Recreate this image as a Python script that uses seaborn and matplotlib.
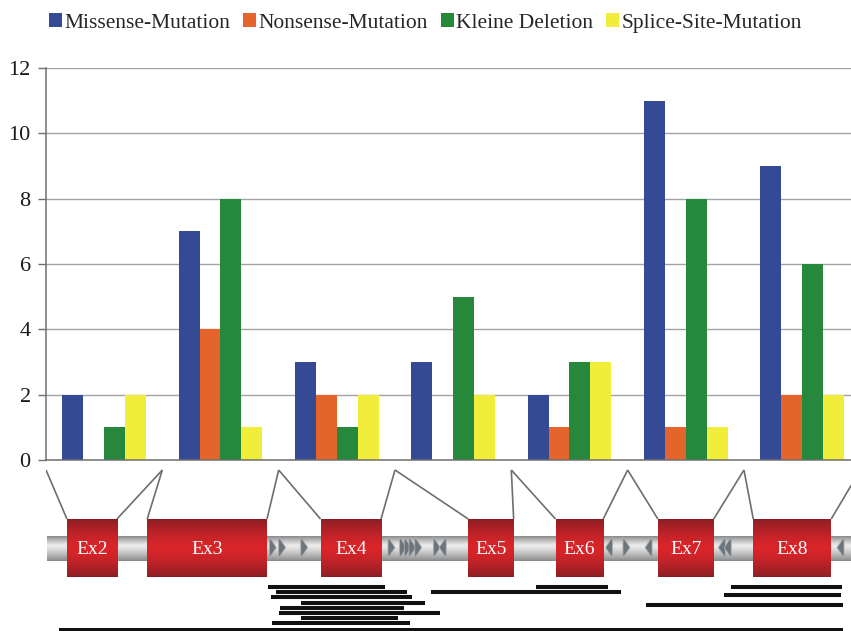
import numpy as np
import pandas as pd
import matplotlib
matplotlib.use("Agg")
import matplotlib.pyplot as plt
from matplotlib.patches import Polygon
import seaborn as sns

# ---- mutation counts per exon ----
exons = ["Ex2", "Ex3", "Ex4", "Ex5", "Ex6", "Ex7", "Ex8"]
mutation_types = ["Missense-Mutation", "Nonsense-Mutation", "Kleine Deletion", "Splice-Site-Mutation"]
missense = [2, 7, 3, 3, 2, 11, 9]
nonsense = [0, 4, 2, 0, 1, 1, 2]
deletion = [1, 8, 1, 5, 3, 8, 6]
splice = [2, 1, 2, 2, 3, 1, 2]
y_ticks = [0, 2, 4, 6, 8, 10, 12]

# ---- gene model (positions on the exon axis, one unit per exon slot) ----
exon_start = [-0.32, 0.37, 1.86, 3.13, 3.88, 4.76, 5.58]
exon_end = [0.11, 1.40, 2.38, 3.52, 4.29, 5.24, 6.25]
element_pos = [1.45, 1.53, 1.72, 2.47, 2.57, 2.61, 2.65, 2.70, 2.86, 2.91,
               4.34, 4.49, 4.68, 5.31, 5.36, 6.33]
element_dir = [1, 1, 1, 1, 1, 1, 1, 1, 1, -1, -1, 1, -1, -1, -1, -1]
read_start = [1.41, 1.48, 1.43, 1.69, 1.51, 1.50, 1.69, 1.44, -0.39, 3.71, 2.81, 5.39, 5.33, 4.66]
read_end = [2.41, 2.60, 2.65, 2.76, 2.58, 2.89, 2.53, 2.63, 6.35, 4.33, 4.44, 6.34, 6.33, 6.35]

palette = ["#344A94", "#E5642B", "#26883C", "#F0EE3A"]

W, H = 851, 631
sns.set_theme(style="white")
plt.rcParams["font.family"] = ["Liberation Serif", "DejaVu Serif"]

fig = plt.figure(figsize=(W / 100, H / 100), dpi=100)

# ---- bar chart ----
x_left, x_right = 46, 860.3
ax = fig.add_axes([x_left / W, (H - 460) / H, (x_right - x_left) / W, 392 / H])

df = pd.DataFrame({
    "Exon": exons * 4,
    "Typ": sum([[t] * len(exons) for t in mutation_types], []),
    "Anzahl": missense + nonsense + deletion + splice,
})
sns.barplot(data=df, x="Exon", y="Anzahl", hue="Typ", hue_order=mutation_types,
            palette=palette, width=0.72, saturation=1, linewidth=0,
            errorbar=None, ax=ax)

ax.set_xlim(-0.5, len(exons) - 0.5)
ax.set_ylim(0, 12)
ax.set_xlabel("")
ax.set_ylabel("")
ax.set_xticks(np.arange(-0.5, len(exons)))
ax.set_xticklabels([])
ax.set_yticks(y_ticks)
ax.set_yticklabels([str(v) for v in y_ticks], fontsize=16, color="#1a1a1a")
ax.tick_params(axis="x", direction="in", length=7, color="#707070", width=1)
ax.tick_params(axis="y", direction="out", length=6, color="#707070", width=1, pad=5, left=True)
ax.grid(axis="y", color="#A3A3A3", linewidth=1.0)
ax.set_axisbelow(True)
for side in ("top", "right"):
    ax.spines[side].set_visible(False)
for side in ("left", "bottom"):
    ax.spines[side].set_color("#707070")
    ax.spines[side].set_linewidth(1.1)

handles, labels = ax.get_legend_handles_labels()
if ax.get_legend() is not None:
    ax.get_legend().remove()
fig.legend(handles, labels, loc="upper center", bbox_to_anchor=(0.5, 1 - 13 / H),
           ncol=4, frameon=False, fontsize=15.5, handlelength=0.6, handleheight=0.65,
           handletextpad=0.12, columnspacing=0.6, borderaxespad=0, borderpad=0)

# ---- gene diagram below the bars (y runs downward in pixel rows) ----
ax2 = fig.add_axes([x_left / W, 0, (x_right - x_left) / W, (H - 462) / H])
ax2.axis("off")


def gradient(c_edge, c_mid, n=80, peak=0.5, power=1.6):
    t = np.linspace(0, 1, n)
    d = np.where(t < peak, (peak - t) / peak, (t - peak) / (1 - peak))
    w = d ** power
    c_edge = np.array(matplotlib.colors.to_rgb(c_edge))
    c_mid = np.array(matplotlib.colors.to_rgb(c_mid))
    return (c_mid[None, :] * (1 - w[:, None]) + c_edge[None, :] * w[:, None])[:, None, :]


tube_top, tube_bot = 536, 561
ax2.imshow(gradient("#8A8A8A", "#ECECEC", peak=0.38, power=1.2),
           extent=(-0.49, 6.8, tube_bot, tube_top), aspect="auto", zorder=1)

elem_w = 0.06
for pos, d in zip(element_pos, element_dir):
    tip = pos + d * elem_w / 2
    back = pos - d * elem_w / 2
    tri = Polygon([(back, tube_top + 1), (tip, (tube_top + tube_bot) / 2 - 1), (back, tube_bot - 3)],
                  closed=True, facecolor="#6D757B", edgecolor="#A9AEB2", linewidth=0.6, zorder=2)
    ax2.add_patch(tri)

exon_top, exon_bot = 519, 577
red = gradient("#8D1F24", "#DA252A", peak=0.5, power=1.4)
for name, s, e in zip(exons, exon_start, exon_end):
    ax2.imshow(red, extent=(s, e, exon_bot, exon_top), aspect="auto", zorder=3)
    ax2.text((s + e) / 2, (exon_top + exon_bot) / 2 + 1, name, color="white",
             fontsize=14, ha="center", va="center", zorder=4)

conn_top = 470
for i, (s, e) in enumerate(zip(exon_start, exon_end)):
    ax2.plot([i - 0.5, s], [conn_top, exon_top], color="#6E6E6E", lw=1.2, zorder=2,
             solid_capstyle="butt")
    ax2.plot([i + 0.5, e], [conn_top, exon_top], color="#6E6E6E", lw=1.2, zorder=2,
             solid_capstyle="butt")

read_rows = [587, 592, 597, 602.5, 607.5, 613, 617.5, 623, 629.5, 587, 592.3, 587, 594.7, 604.7]
for s, e, r in zip(read_start, read_end, read_rows):
    ax2.plot([s, e], [r, r], color="#111111", lw=2.9, solid_capstyle="butt", zorder=5)

ax2.set_xlim(-0.5, len(exons) - 0.5)
ax2.set_ylim(H, 462)

fig.savefig("out.png", dpi=100)
